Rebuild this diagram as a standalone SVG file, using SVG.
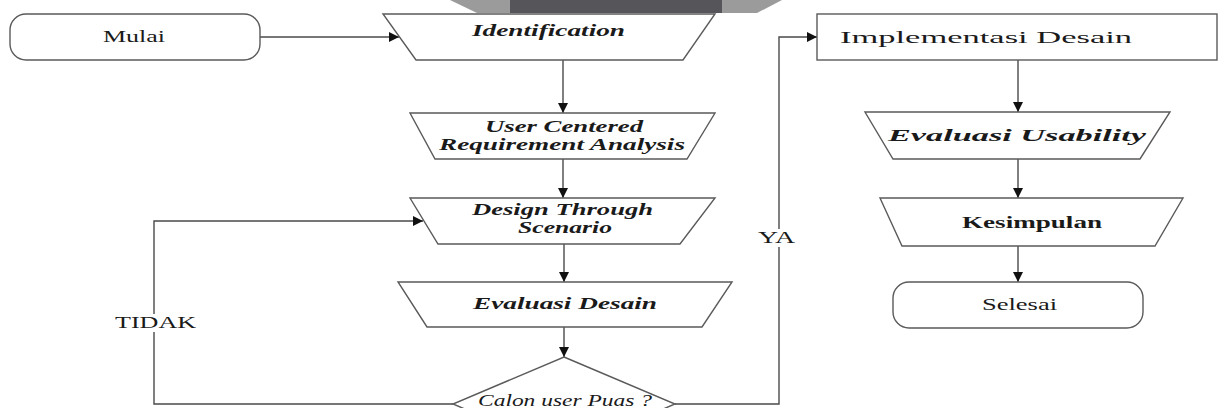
<svg xmlns="http://www.w3.org/2000/svg" width="1218" height="408" viewBox="0 0 1218 408">
<style>
.shape{fill:#ffffff;stroke:#5a5a5a;stroke-width:1.4}
.line{fill:none;stroke:#4a4a4a;stroke-width:1.4}
.t{font-family:"Liberation Serif","Times New Roman",serif;font-size:16px;fill:#1a1a1a}
.bi{font-weight:bold;font-style:italic}
.b{font-weight:bold}
.i{font-style:italic}
</style>
<defs>
<marker id="arr" viewBox="0 0 10 10" refX="10" refY="5" markerWidth="11" markerHeight="10" markerUnits="userSpaceOnUse" orient="auto">
<path d="M0,0 L10,5 L0,10 Z" fill="#111"/>
</marker>
</defs>
<rect width="1218" height="408" fill="#ffffff"/>
<g id="banner">
<polygon points="450,0 782,0 757,13 477,13" fill="#9b9b9b"/>
<rect x="510" y="0" width="212" height="13" fill="#55555a"/>
</g>
<g id="connectors">
<line class="line" x1="260" y1="37" x2="399" y2="37" marker-end="url(#arr)"/>
<line class="line" x1="563" y1="60" x2="563" y2="113" marker-end="url(#arr)"/>
<line class="line" x1="563" y1="159" x2="563" y2="198" marker-end="url(#arr)"/>
<line class="line" x1="564" y1="244" x2="564" y2="282" marker-end="url(#arr)"/>
<line class="line" x1="564" y1="327" x2="564" y2="357" marker-end="url(#arr)"/>
<path class="line" d="M453,404 H154 V221 H423" marker-end="url(#arr)"/>
<path class="line" d="M675,404 H779 V37 H817" marker-end="url(#arr)"/>
<line class="line" x1="1018" y1="60" x2="1018" y2="112" marker-end="url(#arr)"/>
<line class="line" x1="1018" y1="159" x2="1018" y2="198" marker-end="url(#arr)"/>
<line class="line" x1="1018" y1="246" x2="1018" y2="282" marker-end="url(#arr)"/>
<rect x="113" y="314" width="85" height="18" fill="#ffffff"/>
<text class="t" x="115" y="328" textLength="81" lengthAdjust="spacingAndGlyphs">TIDAK</text>
<rect x="756" y="229" width="41" height="18" fill="#ffffff"/>
<text class="t" x="758" y="243" textLength="37" lengthAdjust="spacingAndGlyphs">YA</text>
</g>
<g id="mulai">
<rect class="shape" x="10" y="14" width="250" height="46" rx="16" ry="16"/>
<text class="t" x="103" y="42" textLength="62" lengthAdjust="spacingAndGlyphs">Mulai</text>
</g>
<g id="identification">
<polygon class="shape" points="383,14 715,14 683,60 416,60"/>
<text class="t bi" x="472" y="36" textLength="153" lengthAdjust="spacingAndGlyphs">Identification</text>
</g>
<g id="ucra">
<polygon class="shape" points="410,113 715,113 687,159 435,159"/>
<text class="t bi" x="485" y="132" textLength="158" lengthAdjust="spacingAndGlyphs">User Centered</text>
<text class="t bi" x="439" y="150" textLength="246" lengthAdjust="spacingAndGlyphs">Requirement Analysis</text>
</g>
<g id="design">
<polygon class="shape" points="410,198 715,198 680,244 438,244"/>
<text class="t bi" x="472" y="215" textLength="181" lengthAdjust="spacingAndGlyphs">Design Through</text>
<text class="t bi" x="518" y="233" textLength="94" lengthAdjust="spacingAndGlyphs">Scenario</text>
</g>
<g id="evaluasi-desain">
<polygon class="shape" points="398,282 732,282 702,327 427,327"/>
<text class="t bi" x="473" y="309" textLength="184" lengthAdjust="spacingAndGlyphs">Evaluasi Desain</text>
</g>
<g id="decision">
<polygon class="shape" points="564,357 675,404 564,451 453,404"/>
<text class="t i" x="478" y="406" textLength="174" lengthAdjust="spacingAndGlyphs">Calon user Puas ?</text>
</g>
<g id="implementasi">
<rect class="shape" x="817" y="14" width="400" height="46"/>
<text class="t" x="840" y="43" textLength="292" lengthAdjust="spacingAndGlyphs">Implementasi Desain</text>
</g>
<g id="evaluasi-usability">
<polygon class="shape" points="865,112 1170,112 1140,159 893,159"/>
<text class="t bi" x="888" y="141" textLength="258" lengthAdjust="spacingAndGlyphs">Evaluasi Usability</text>
</g>
<g id="kesimpulan">
<polygon class="shape" points="880,198 1183,198 1155,246 902,246"/>
<text class="t b" x="962" y="228" textLength="140" lengthAdjust="spacingAndGlyphs">Kesimpulan</text>
</g>
<g id="selesai">
<rect class="shape" x="893" y="282" width="250" height="46" rx="16" ry="16"/>
<text class="t" x="982" y="310" textLength="75" lengthAdjust="spacingAndGlyphs">Selesai</text>
</g>
</svg>
